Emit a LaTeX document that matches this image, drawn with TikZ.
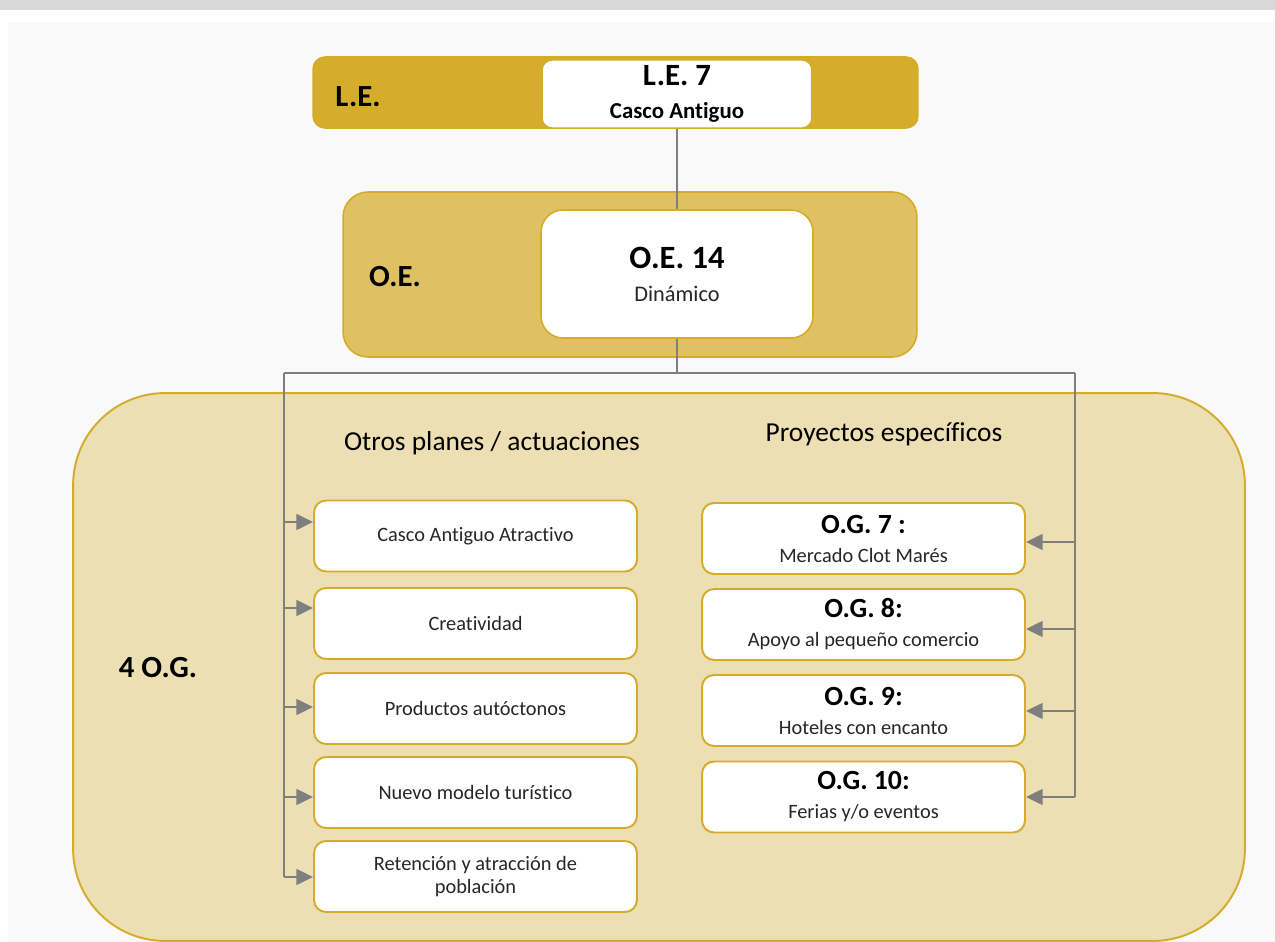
\documentclass[tikz,border=0pt]{standalone}
\usepackage{fontspec}
\setmainfont{Carlito}[Ligatures=NoCommon]
\usepackage{tikz}
\usetikzlibrary{arrows.meta}
\usetikzlibrary{positioning}

\definecolor{barGray}{HTML}{D9D9D9}
\definecolor{panelGray}{HTML}{F9F9F9}
\definecolor{leGold}{HTML}{D6AD2A}
\definecolor{oeGold}{HTML}{DFC164}
\definecolor{ogSand}{HTML}{EBDFB3}
\definecolor{edgeGold}{HTML}{D4AC2A}
\definecolor{linkGray}{HTML}{7F7F7F}
\definecolor{textGray}{HTML}{262626}

\begin{document}
\begin{tikzpicture}[x=0.02cm, y=-0.02cm]
\tikzset{
  bandNode/.style={
    rectangle,
                   draw=edgeGold,
                   line width=0.9pt,
                   inner sep=0pt
    },
  topBox/.style={
    rectangle,
                   draw=edgeGold,
                   line width=0.9pt,
                   fill=white,
                   align=center,
                   text=black
    },
  whiteBox/.style={
    rectangle,
                   rounded corners=0.24cm,
                   draw=edgeGold,
                   line width=1.1pt,
                   fill=white,
                   minimum width=6.46cm,
                   minimum height=1.42cm,
                   align=center,
                   text=textGray
    },
  planNode/.style={whiteBox, font=\fontsize{11.6}{13.5}\selectfont},
  projNode/.style={whiteBox, font=\fontsize{11.6}{16.5}\selectfont},
  levelText/.style={font=\fontsize{17.5}{20}\selectfont\bfseries, text=black},
  headText/.style={font=\fontsize{15.6}{18}\selectfont, text=black},
  linkLine/.style={draw=linkGray, line width=1.1pt},
  linkArrow/.style={linkLine, -{Triangle[length=9.5pt, width=9pt]}}
}
    \useasboundingbox (0,0) rectangle (1275,942);
    \fill[barGray] (0,0) rectangle (1275,10);
    \fill[white] (0,10) rectangle (1275,22);
    \fill[white] (0,22) rectangle (8,942);
    \fill[panelGray] (8,22) rectangle (1275,942);

    \node (LEband)[bandNode, fill=leGold, rounded corners=0.24cm, minimum width=12.1cm, minimum height=1.42cm] at (615.5,92.5) {};
    \node (LElabel)[levelText] at (358,97) {L.E.};
    \node (LE7)[topBox, rounded corners=0.2cm, minimum width=5.4cm, minimum height=1.34cm, font=\fontsize{13}{18.5}\selectfont\bfseries] at (677,94) {{\fontsize{17.6}{18.5}\selectfont L.E. 7}\\Casco Antiguo};

    \node (OEband)[bandNode, fill=oeGold, rounded corners=0.5cm, minimum width=11.48cm, minimum height=3.3cm] at (630,274.5) {};
    \node (OElabel)[levelText] at (395,277) {O.E.};
    \node (OE14)[topBox, rounded corners=0.44cm, minimum width=5.44cm, minimum height=2.56cm, font=\fontsize{12.7}{18.7}\selectfont] at (677,274) {{\fontsize{18.5}{18.7}\selectfont\bfseries O.E. 14}\\{\color{textGray}Dinámico}};

    \node (OGarea)[bandNode, fill=ogSand, rounded corners=1.84cm, minimum width=23.44cm, minimum height=10.96cm, line width=1.1pt] at (659,667) {};
    \node (OGlabel)[levelText] at (158,668) {4 O.G.};
    \node (otrosHead)[headText] at (492,443) {Otros planes / actuaciones};
    \node (proyHead)[headText] at (884,434) {Proyectos específicos};

    \node (CAA)[planNode] at (475.5,536) {Casco Antiguo Atractivo};
    \node (CRE)[planNode] at (475.5,623.5) {Creatividad};
    \node (PRO)[planNode] at (475.5,708.5) {Productos autóctonos};
    \node (NMT)[planNode] at (475.5,792.5) {Nuevo modelo turístico};
    \node (RAP)[planNode] at (475.5,876.5) {Retención y atracción de\\población};

    \node (OG7)[projNode] at (863.5,538.5) {{\fontsize{15.8}{16.5}\selectfont\bfseries\color{black}O.G. 7 :}\\Mercado Clot Marés};
    \node (OG8)[projNode] at (863.5,624.5) {{\fontsize{15.8}{16.5}\selectfont\bfseries\color{black}O.G. 8:}\\Apoyo al pequeño comercio};
    \node (OG9)[projNode] at (863.5,710.5) {{\fontsize{15.8}{16.5}\selectfont\bfseries\color{black}O.G. 9:}\\Hoteles con encanto};
    \node (OG10)[projNode] at (863.5,797) {{\fontsize{15.8}{16.5}\selectfont\bfseries\color{black}O.G. 10:}\\Ferias y/o eventos};

    \coordinate (busL) at (284,373);
    \coordinate (busR) at (1075,373);
    \coordinate (trunkL) at (284,877);
    \coordinate (trunkR) at (1075,797);

    \draw[linkLine] (LE7.south) -- (OE14.north);
    \draw[linkLine] (OE14.south) -- (OE14.south |- busL);
    \draw[linkLine] (busL) -- (busR);
    \draw[linkLine] (busL) -- (trunkL);
    \draw[linkLine] (busR) -- (trunkR);

    \draw[linkArrow] (busL |- 0,522) -- (CAA.west |- 0,522);
    \draw[linkArrow] (busL |- 0,608) -- (CRE.west |- 0,608);
    \draw[linkArrow] (busL |- 0,707) -- (PRO.west |- 0,707);
    \draw[linkArrow] (busL |- 0,797) -- (NMT.west |- 0,797);
    \draw[linkArrow] (trunkL) -- (RAP.west |- trunkL);

    \draw[linkArrow] (busR |- 0,542) -- (OG7.east |- 0,542);
    \draw[linkArrow] (busR |- 0,629) -- (OG8.east |- 0,629);
    \draw[linkArrow] (busR |- 0,711) -- (OG9.east |- 0,711);
    \draw[linkArrow] (trunkR) -- (OG10.east |- trunkR);

\end{tikzpicture}
\end{document}
